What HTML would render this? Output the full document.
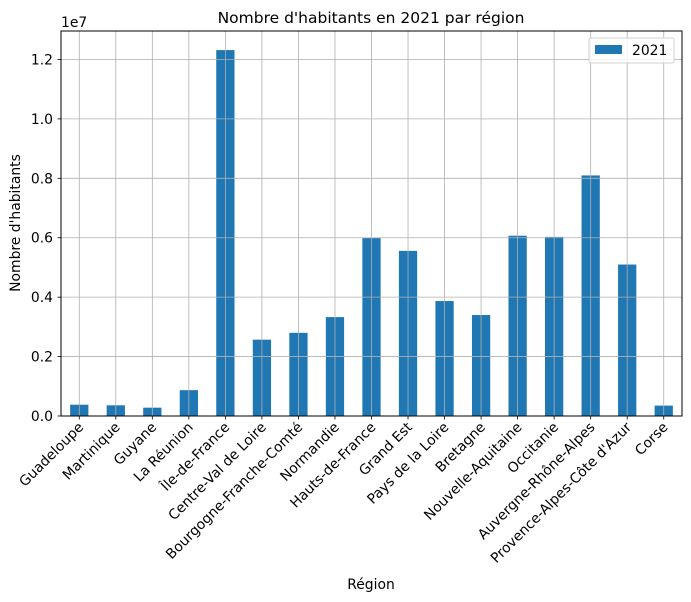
<!DOCTYPE html>
<html><head><meta charset="utf-8"><style>body{margin:0;background:#fff}svg{display:block}text{font-family:"DejaVu Sans","Liberation Sans",sans-serif;fill:#000}</style></head>
<body>
<svg width="691" height="602" xmlns="http://www.w3.org/2000/svg">
<g id="bars" fill="#1f77b4"></g>
<g id="grid" stroke="#b0b0b0" stroke-width="0.8"></g>
<rect x="61" y="31" width="621" height="385" fill="none" stroke="#000" stroke-width="1"/>
<g id="ticks" stroke="#000" stroke-width="0.8"></g>
<g id="labels" font-size="13.9"></g>
<text x="371" y="23" font-size="15.5" text-anchor="middle">Nombre d'habitants en 2021 par région</text>
<text x="61" y="27" font-size="13.9">1e7</text>
<text transform="translate(20,223) rotate(-90)" font-size="13.9" text-anchor="middle">Nombre d'habitants</text>
<text x="371" y="589" font-size="13.9" text-anchor="middle">Région</text>
<rect x="589" y="38" width="85" height="25" rx="2" fill="#fff" fill-opacity="0.8" stroke="#d0d0d0"/>
<rect x="595" y="45" width="27" height="9" fill="#1f77b4"/>
<text x="632" y="55" font-size="13.9">2021</text>
</svg>
<script>
const names=["Guadeloupe","Martinique","Guyane","La Réunion","Île-de-France","Centre-Val de Loire","Bourgogne-Franche-Comté","Normandie","Hauts-de-France","Grand Est","Pays de la Loire","Bretagne","Nouvelle-Aquitaine","Occitanie","Auvergne-Rhône-Alpes","Provence-Alpes-Côte d'Azur","Corse"];
const vals=[0.38,0.36,0.28,0.87,12.32,2.57,2.80,3.33,5.99,5.56,3.87,3.40,6.07,6.03,8.10,5.10,0.35];
const ns="http://www.w3.org/2000/svg";
function el(p,t,a,txt){const e=document.createElementNS(ns,t);for(const k in a)e.setAttribute(k,a[k]);if(txt!==undefined)e.textContent=txt;document.getElementById(p).appendChild(e);}
const step=621/17;
names.forEach((n,i)=>{const cx=61+step*(i+0.5);const h=vals[i]*29.7;
el("bars","rect",{x:cx-step/4,y:416-h,width:step/2,height:h});
el("grid","line",{x1:cx,x2:cx,y1:31,y2:416});
el("ticks","line",{x1:cx,x2:cx,y1:416,y2:419.5});
el("labels","text",{transform:`translate(${cx+5},${428}) rotate(-45)`,"text-anchor":"end"},n);});
for(let k=0;k<=6;k++){const y=416-k*59.42;
el("grid","line",{x1:61,x2:682,y1:y,y2:y});
el("ticks","line",{x1:57.5,x2:61,y1:y,y2:y});
el("labels","text",{x:53,y:y+5,"text-anchor":"end"},(k*0.2).toFixed(1));}
</script>
</body></html>
